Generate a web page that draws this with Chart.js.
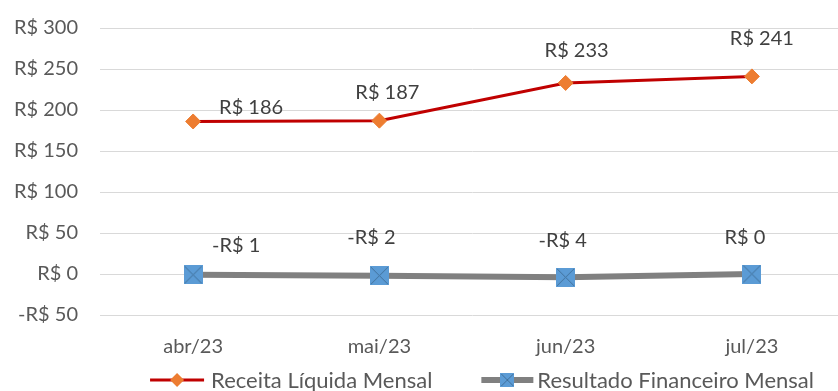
<!DOCTYPE html>
<html>
<head>
<meta charset="utf-8">
<script src="https://cdn.jsdelivr.net/npm/chart.js@4/dist/chart.umd.min.js"></script>
<style>
  html, body { margin: 0; padding: 0; background: #fff; overflow: hidden; }
  #wrap { width: 972px; height: 391px; }
</style>
</head>
<body>
<div id="wrap"><canvas id="chart" width="972" height="391"></canvas></div>
<script>
// monthly figures, in R$
const months = ["abr/23", "mai/23", "jun/23", "jul/23"];
const receitaLiquida = [186, 187, 233, 241];
const resultadoFinanceiro = [-1, -2, -4, 0];
const yTicks = [-50, 0, 50, 100, 150, 200, 250, 300];

// where each value label sits relative to its point
const receitaLabelOffsets = [[58, -14], [8, -28], [11, -32], [10, -38]];
const resultadoLabelOffsets = [[43, -29], [-8, -38], [-3, -37], [-7, -36]];

const FONT = "Lato, 'Open Sans', sans-serif";

function brl(v) {
    const n = Math.round(v);
    return (n < 0 ? "-R$ " : "R$ ") + Math.abs(n);
}

// blue square with a diagonal cross, Excel "x" marker
function crossSquare(size) {
    const c = document.createElement("canvas");
    c.width = size; c.height = size;
    const g = c.getContext("2d");
    g.fillStyle = "#5B9BD5";
    g.fillRect(0, 0, size, size);
    g.strokeStyle = "#41719C";
    g.lineWidth = 1;
    g.beginPath();
    g.moveTo(1, 1); g.lineTo(size - 1, size - 1);
    g.moveTo(size - 1, 1); g.lineTo(1, size - 1);
    g.stroke();
    return c;
}

function drawReceitaIcon(g, x, y) {
    g.strokeStyle = "#C00000"; g.lineWidth = 3;
    g.beginPath(); g.moveTo(x, y); g.lineTo(x + 54, y); g.stroke();
    g.fillStyle = "#ED7D31";
    g.beginPath();
    g.moveTo(x + 27, y - 7); g.lineTo(x + 34, y); g.lineTo(x + 27, y + 7); g.lineTo(x + 20, y);
    g.closePath(); g.fill();
}

function drawResultadoIcon(g, x, y) {
    g.strokeStyle = "#808080"; g.lineWidth = 6;
    g.beginPath(); g.moveTo(x, y); g.lineTo(x + 52, y); g.stroke();
    g.drawImage(crossSquare(14), x + 19, y - 7);
}

// legend drawn by hand: line + marker, then the series name
const bottomLegend = {
    id: "bottomLegend",
    afterDraw(chart) {
        const g = chart.ctx;
        const y = 380;
        const icons = [drawReceitaIcon, drawResultadoIcon];
        const iconW = [54, 52];
        const textGap = [7, 4];
        const itemGap = 49;
        g.save();
        g.font = "22px " + FONT;
        g.textBaseline = "middle";
        g.textAlign = "left";
        const names = chart.data.datasets.map(d => d.label);
        const widths = names.map(n => g.measureText(n).width);
        let total = itemGap;
        names.forEach((n, i) => { total += iconW[i] + textGap[i] + widths[i]; });
        let x = chart.width / 2 - total / 2 - 4;
        names.forEach((n, i) => {
            icons[i](g, x, y);
            x += iconW[i] + textGap[i];
            g.fillStyle = "#595959";
            g.fillText(n, x, y + 1);
            x += widths[i] + itemGap;
        });
        g.restore();
    }
};

const valueLabels = {
    id: "valueLabels",
    afterDatasetsDraw(chart) {
        const ctx = chart.ctx;
        ctx.save();
        ctx.font = "20px " + FONT;
        ctx.fillStyle = "#404040";
        ctx.textAlign = "center";
        ctx.textBaseline = "middle";
        chart.data.datasets.forEach((ds, i) => {
            const meta = chart.getDatasetMeta(i);
            const offs = ds.labelOffsets;
            meta.data.forEach((pt, j) => {
                ctx.fillText(brl(ds.data[j]), pt.x + offs[j][0], pt.y + offs[j][1]);
            });
        });
        ctx.restore();
    }
};

new Chart(document.getElementById("chart"), {
    type: "line",
    data: {
        labels: months,
        datasets: [
            {
                label: "Receita Líquida Mensal",
                data: receitaLiquida,
                borderColor: "#C00000",
                borderWidth: 3,
                pointStyle: "rectRot",
                pointRadius: 7.5,
                pointBackgroundColor: "#ED7D31",
                pointBorderColor: "#ED7D31",
                pointBorderWidth: 1,
                labelOffsets: receitaLabelOffsets,
                fill: false
            },
            {
                label: "Resultado Financeiro Mensal",
                data: resultadoFinanceiro,
                borderColor: "#808080",
                borderWidth: 6,
                pointStyle: crossSquare(19),
                pointRadius: 9,
                labelOffsets: resultadoLabelOffsets,
                fill: false
            }
        ]
    },
    options: {
        responsive: false,
        animation: false,
        layout: { padding: { top: 28, right: 127, bottom: 32, left: 0 } },
        scales: {
            x: {
                offset: true,
                grid: { display: false, drawTicks: false },
                border: { display: false },
                ticks: { color: "#595959", font: { family: FONT, size: 20 }, padding: 20 },
                afterFit(scale) {
                    scale.height = 44;
                    scale.paddingLeft = 0;
                    scale.paddingRight = 0;
                }
            },
            y: {
                min: -50,
                max: 300,
                afterBuildTicks(scale) { scale.ticks = yTicks.map(v => ({ value: v })); },
                afterFit(scale) {
                    scale.width = 100;
                    scale.paddingTop = 0;
                    scale.paddingBottom = 0;
                },
                grid: { color: "#D9D9D9", lineWidth: 1, drawTicks: false },
                border: { display: false },
                ticks: {
                    color: "#595959",
                    font: { family: FONT, size: 20 },
                    padding: 22,
                    callback: v => brl(v)
                }
            }
        },
        plugins: {
            tooltip: { enabled: false },
            legend: { display: false }
        }
    },
    plugins: [valueLabels, bottomLegend]
});
</script>
</body>
</html>
